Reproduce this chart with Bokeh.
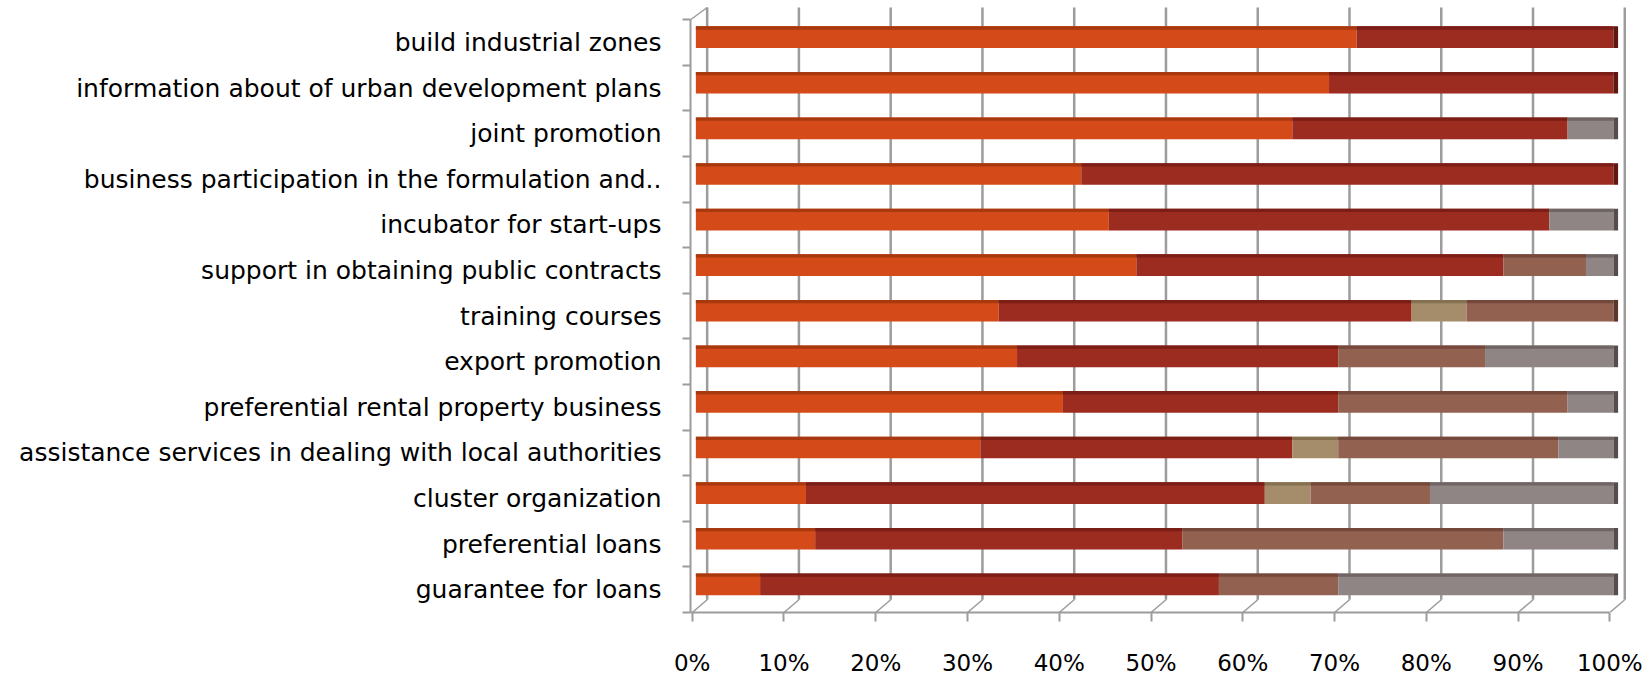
from bokeh.plotting import figure
from bokeh.models import Range1d, FixedTicker, ColumnDataSource
from bokeh.transform import dodge
from bokeh.embed import file_html
from bokeh.resources import INLINE

# ---- data (top row first) ----
categories = [
    "build industrial zones",
    "information about of urban development plans",
    "joint promotion",
    "business participation in the formulation and..",
    "incubator for start-ups",
    "support in obtaining public contracts",
    "training courses",
    "export promotion",
    "preferential rental property business",
    "assistance services in dealing with local authorities",
    "cluster organization",
    "preferential loans",
    "guarantee for loans",
]
s1 = [72, 69, 65, 42, 45, 48, 33, 35, 40, 31, 12, 13, 7]
s2 = [28, 31, 30, 58, 48, 40, 45, 35, 30, 34, 50, 40, 50]
s3 = [0, 0, 0, 0, 0, 0, 6, 0, 0, 5, 5, 0, 0]
s4 = [0, 0, 0, 0, 0, 9, 16, 16, 25, 24, 13, 35, 13]
s5 = [0, 0, 5, 0, 7, 3, 0, 14, 5, 6, 20, 12, 30]
x_ticks = [0, 10, 20, 30, 40, 50, 60, 70, 80, 90, 100]
x_tick_labels = ["0%", "10%", "20%", "30%", "40%", "50%", "60%", "70%", "80%", "90%", "100%"]

series = [s1, s2, s3, s4, s5]
colors = ["#D54A19", "#9C2B20", "#A58C6A", "#93614F", "#8F8584"]
top_colors = ["#A8390F", "#7A1E16", "#85704F", "#74483A", "#6F6564"]
cap_colors = ["#8A2E0C", "#5E1711", "#6A583C", "#5C382C", "#554C4C"]

n = len(categories)
ypos = [n - 1 - i for i in range(n)]

PX_Y = 45.67   # pixels per category row
FRAME_H = 613  # frame height in pixels
X0 = -0.185
FLOOR = -0.5
# 3D depth offsets (data units)
DX, DY = 1.63, 0.28
BAR_DX, BAR_DY = 0.4, 0.118
BAR_H, TOP_H = 0.475, 0.072
TOP_Y = FLOOR + (FRAME_H - 7) / PX_Y

p = figure(width=1652, height=678,
           x_range=Range1d(X0, 104.65),
           y_range=Range1d(FLOOR, FLOOR + FRAME_H / PX_Y),
           output_backend="svg", toolbar_location=None,
           min_border_left=690, min_border_right=0, min_border_top=0, min_border_bottom=65)
p.outline_line_color = None
p.xgrid.visible = False
p.ygrid.visible = False

GRID = "#9C9C9C"
# back-wall gridlines and floor diagonals
p.segment(x0=[t + DX for t in x_ticks], y0=FLOOR + DY, x1=[t + DX for t in x_ticks], y1=TOP_Y,
          line_color=GRID, line_width=2.5)
p.segment(x0=x_ticks, y0=FLOOR, x1=[t + DX for t in x_ticks], y1=FLOOR + DY,
          line_color=GRID, line_width=1.5)
# top-left diagonal of side wall
p.segment(x0=[X0], y0=[n - 0.5], x1=[DX], y1=[TOP_Y], line_color=GRID, line_width=1.5)

# stacked bars
left = [0] * n
for k, s in enumerate(series):
    right = [l + v for l, v in zip(left, s)]
    src = ColumnDataSource(dict(y=ypos, left=left, right=right))
    p.hbar(y=dodge("y", BAR_DY), left=dodge("left", BAR_DX), right=dodge("right", BAR_DX),
           height=BAR_H, fill_color=colors[k], line_color=None, source=src)
    p.hbar(y=dodge("y", BAR_DY + BAR_H / 2 - TOP_H / 2), left=dodge("left", BAR_DX),
           right=dodge("right", BAR_DX), height=TOP_H, fill_color=top_colors[k],
           line_color=None, source=src)
    left = right

# end caps (colour of last non-empty segment)
last_idx = []
for i in range(n):
    li = 0
    for k, s in enumerate(series):
        if s[i] > 0:
            li = k
    last_idx.append(li)
cap_src = ColumnDataSource(dict(y=ypos, left=left, right=[v + 0.5 for v in left],
                                c=[cap_colors[j] for j in last_idx]))
p.hbar(y=dodge("y", BAR_DY), left=dodge("left", BAR_DX), right=dodge("right", BAR_DX),
       height=BAR_H, fill_color="c", line_color=None, source=cap_src)

# x axis
xa = p.xaxis[0]
xa.ticker = FixedTicker(ticks=x_ticks)
xa.major_label_overrides = {t: lab for t, lab in zip(x_ticks, x_tick_labels)}
xa.bounds = (X0, 100)
xa.axis_line_color = GRID
xa.axis_line_width = 2
xa.major_tick_line_color = GRID
xa.major_tick_line_width = 2
xa.major_tick_out = 9
xa.major_tick_in = 0
xa.minor_tick_line_color = None
xa.major_label_text_font = "DejaVu Sans"
xa.major_label_text_font_size = "23px"
xa.major_label_text_color = "#000000"
xa.major_label_standoff = 28

# y axis
ya = p.yaxis[0]
ya.ticker = FixedTicker(ticks=ypos, minor_ticks=[k - 0.5 for k in range(n + 1)])
ya.major_label_overrides = {y: c for y, c in zip(ypos, categories)}
ya.bounds = (FLOOR, n - 0.5)
ya.axis_line_color = GRID
ya.axis_line_width = 2
ya.major_tick_line_color = None
ya.major_tick_out = 0
ya.major_tick_in = 0
ya.minor_tick_line_color = GRID
ya.minor_tick_line_width = 2
ya.minor_tick_out = 8
ya.minor_tick_in = 0
ya.major_label_text_font = "DejaVu Sans"
ya.major_label_text_font_size = "25px"
ya.major_label_text_color = "#000000"
ya.major_label_standoff = 21

open("out.html", "w").write(file_html(p, INLINE))
